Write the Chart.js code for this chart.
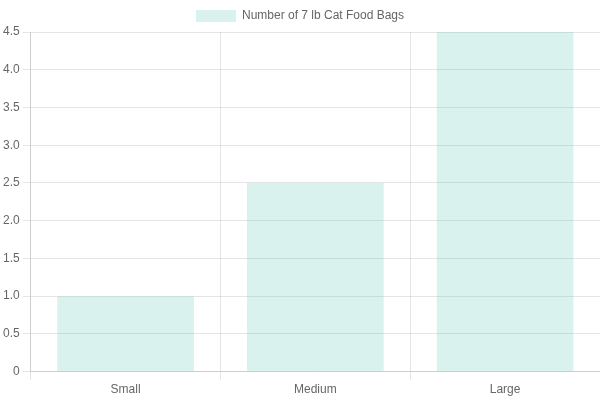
<!DOCTYPE html>
<html>
<head>
<meta charset="utf-8">
<script src="https://cdn.jsdelivr.net/npm/chart.js@4"></script>
<style>
  html, body { margin: 0; padding: 0; background: #fff; }
  #box { width: 600px; height: 400px; }
</style>
</head>
<body>
<div id="box"><canvas id="grafico"></canvas></div>
<script>
// tamanhos das embalagens e quantidade de sacos
const tamanhos = ['Small', 'Medium', 'Large']
const sacos = [1, 2.5, 4.5]

const grafico = document.querySelector('#grafico')
new Chart(grafico, {
    type: 'bar',
    data: {
        labels: tamanhos,
        datasets: [{
            label: 'Number of 7 lb Cat Food Bags',
            data: sacos,
            backgroundColor: 'rgba(70, 190, 165, 0.2)',
            borderWidth: 0
        }]
    },
    options: {
        responsive: true,
        maintainAspectRatio: false,
        animation: false,
        scales: {
            y: { beginAtZero: true }
        }
    }
})
</script>
</body>
</html>
